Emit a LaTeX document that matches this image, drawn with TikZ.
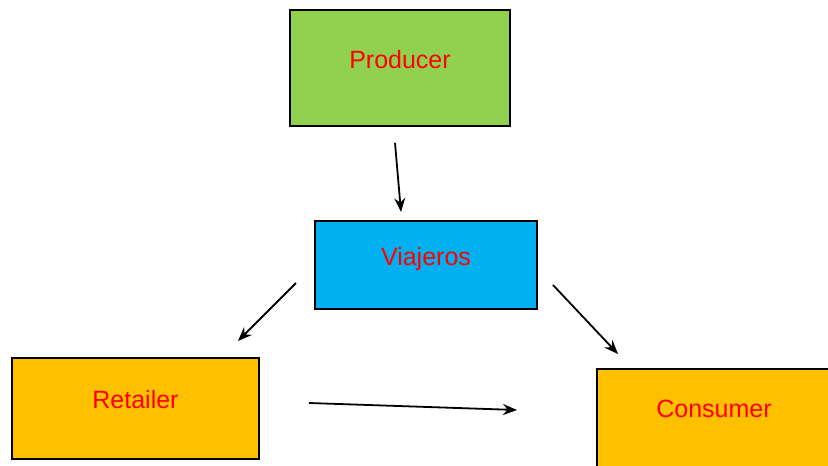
\documentclass[tikz,border=0pt]{standalone}
\usepackage{fontspec}
\setmainfont{Liberation Sans}
\usetikzlibrary{arrows.meta}
\definecolor{pgreen}{HTML}{92D050}
\definecolor{pblue}{HTML}{00B0F0}
\definecolor{porange}{HTML}{FFC000}
\tikzset{
  lbl/.style={text=red, font=\fontsize{25}{29}\selectfont},
  box/.style={draw=black, line width=1.8pt, inner sep=0pt, lbl, align=center},
  conn/.style={line width=1.8pt, -{Stealth[length=14pt,width=11pt]}},
}
\begin{document}
\begin{tikzpicture}[x=1pt,y=-1pt]
\useasboundingbox (0,0) rectangle (828,466);
\clip (0,0) rectangle (828,466);
\fill[white] (0,0) rectangle (828,466);
\node[box, fill=pgreen, text width=220pt, text height=58pt, text depth=58pt] (prod) at (400,68) {Producer};
\node[box, fill=pblue, text width=222pt, text height=44pt, text depth=44pt] (via) at (426,265) {Viajeros};
\node[box, fill=porange, text width=247pt, text height=50.5pt, text depth=50.5pt] (ret) at (135.5,408.5) {Retailer};
\node[box, fill=porange, text width=240pt, text height=50pt, text depth=50pt, anchor=north west] (con) at (596,368) {};
\node[lbl, anchor=base] (contxt) at (714,417) {Consumer};
\coordinate (a1) at (395,143); \coordinate (b1) at (401,212);
\coordinate (a2) at (296,283); \coordinate (b2) at (238,341);
\coordinate (a3) at (553,285); \coordinate (b3) at (618,354);
\coordinate (a4) at (309,403); \coordinate (b4) at (517,410);
\draw[conn] (a1) -- (b1);
\draw[conn] (a2) -- (b2);
\draw[conn] (a3) -- (b3);
\draw[conn] (a4) -- (b4);
\end{tikzpicture}
\end{document}
